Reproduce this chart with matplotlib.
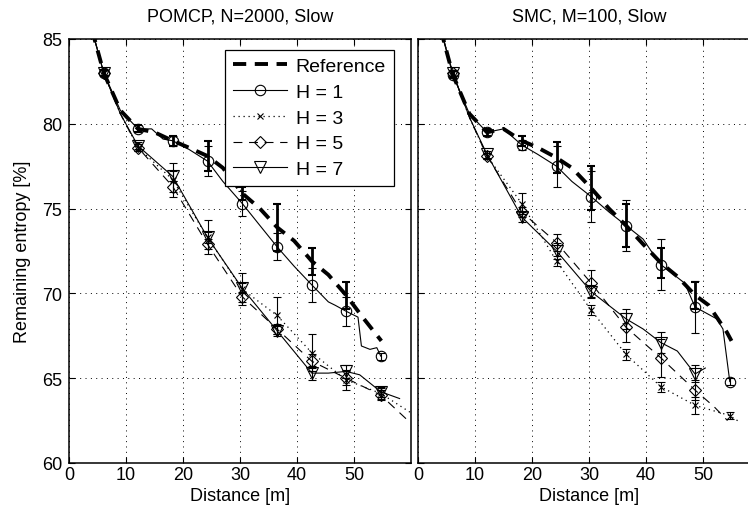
import matplotlib
matplotlib.use("Agg")
import matplotlib.pyplot as plt

plt.rcParams['font.family'] = ['Liberation Sans', 'DejaVu Sans']

# marker / error bar positions (distance in m)
dist = [6.1, 12.1, 18.2, 24.3, 30.4, 36.5, 42.6, 48.6, 54.7]

# ---- POMCP, N=2000 (left) ----
ref_l_x = [3.0, 6.1, 9.0, 12.1, 15.0, 18.2, 21.0, 24.3, 27.0, 30.4, 33.5, 36.5, 39.5, 42.6, 45.5, 48.6, 51.5, 54.8]
ref_l_y = [86.8, 83.0, 80.8, 79.7, 79.5, 79.0, 78.6, 78.1, 77.4, 75.9, 75.0, 73.9, 73.1, 71.9, 71.1, 69.9, 68.6, 67.2]
ref_l_err = [0.2, 0.2, 0.3, 0.9, 0.4, 1.4, 0.8, 0.8]

h1_l_x = [3.0, 6.1, 9.0, 12.1, 14.5, 16.5, 18.2, 21.0, 24.3, 27.0, 30.4, 33.5, 36.5, 39.5, 42.6, 45.5, 46.7, 48.6, 50.7, 51.3, 52.8, 54.0, 54.7]
h1_l_y = [86.8, 83.0, 80.8, 79.7, 79.7, 79.1, 79.0, 78.5, 77.8, 76.6, 75.3, 74.0, 72.75, 71.6, 70.5, 69.5, 69.3, 68.95, 68.6, 66.9, 66.7, 66.8, 66.3]
h1_l_err = [0.2, 0.2, 0.3, 0.9, 0.75, 0.8, 1.0, 0.85, 0.2]

h3_l_x = [3.0, 6.1, 9.0, 12.1, 18.2, 24.3, 30.4, 36.5, 42.6, 48.6, 54.7, 59.8]
h3_l_y = [86.8, 83.0, 80.6, 78.6, 76.7, 73.3, 70.25, 68.7, 66.5, 64.9, 64.1, 63.0]
h3_l_err = [0.2, 0.2, 1.0, 1.0, 0.95, 1.1, 1.1, 0.6, 0.3]

h5_l_x = [3.0, 6.1, 9.0, 12.1, 18.2, 24.3, 30.4, 36.5, 42.6, 48.6, 54.7, 59.8]
h5_l_y = [86.8, 83.0, 80.6, 78.6, 76.3, 72.9, 69.8, 67.9, 66.0, 65.0, 64.0, 62.4]
h5_l_err = [0.2, 0.2, 0.3, 0.3, 0.3, 0.3, 0.4, 0.4, 0.3]

h7_l_x = [3.0, 6.1, 9.0, 12.1, 18.2, 24.3, 30.4, 36.5, 42.6, 45.5, 48.6, 51.0, 54.7, 58.0]
h7_l_y = [86.8, 83.0, 80.6, 78.7, 76.9, 73.3, 70.3, 67.8, 65.3, 65.3, 65.4, 65.2, 64.2, 63.8]
h7_l_err = [0.2, 0.2, 0.3, 0.3, 0.3, 0.3, 0.4, 0.4, 0.3]

# ---- SMC, M=100 (right) ----
ref_r_x = [3.0, 6.1, 9.0, 12.1, 15.0, 18.2, 21.0, 24.3, 27.0, 30.4, 33.5, 36.5, 39.5, 42.6, 45.5, 48.6, 51.0, 54.2, 55.0]
ref_r_y = [86.8, 82.9, 80.6, 79.5, 79.7, 79.0, 78.6, 78.0, 77.4, 76.2, 75.0, 74.0, 72.9, 71.8, 71.0, 69.9, 69.3, 67.7, 67.2]
ref_r_err = [0.2, 0.2, 0.3, 0.9, 1.3, 1.25, 0.9, 0.8]

h1_r_x = [3.0, 6.1, 9.0, 12.1, 15.0, 18.2, 21.0, 24.3, 27.0, 30.4, 33.5, 36.5, 39.5, 41.9, 42.6, 46.8, 48.6, 52.4, 53.5, 54.7]
h1_r_y = [86.8, 82.9, 80.6, 79.5, 79.7, 78.75, 78.2, 77.5, 76.6, 75.7, 74.8, 74.0, 73.2, 72.0, 71.7, 70.6, 69.2, 68.5, 67.9, 64.8]
h1_r_err = [0.2, 0.2, 0.3, 1.2, 1.5, 1.5, 1.5, 1.55, 0.2]

h3_r_x = [3.0, 6.1, 9.0, 12.1, 18.2, 24.3, 30.4, 36.5, 42.6, 48.6, 54.7, 56.5]
h3_r_y = [86.8, 83.0, 80.4, 78.1, 75.3, 71.9, 69.0, 66.4, 64.5, 63.4, 62.8, 62.4]
h3_r_err = [0.2, 0.2, 0.6, 0.3, 0.3, 0.3, 0.3, 0.5, 0.2]

h5_r_x = [3.0, 6.1, 9.0, 12.1, 18.2, 24.3, 30.4, 36.5, 42.6, 48.6, 52.0, 54.3]
h5_r_y = [86.8, 83.0, 80.4, 78.1, 74.8, 73.0, 70.6, 68.0, 66.2, 64.3, 63.3, 62.5]
h5_r_err = [0.2, 0.2, 0.3, 0.5, 0.8, 0.85, 1.1, 0.6]

h7_r_x = [3.0, 6.1, 9.0, 12.1, 18.2, 24.3, 30.4, 36.5, 39.5, 42.6, 45.5, 48.6, 50.4]
h7_r_y = [86.8, 83.0, 80.4, 78.2, 74.5, 72.5, 70.1, 68.5, 67.9, 67.1, 66.6, 65.25, 65.6]
h7_r_err = [0.2, 0.2, 0.3, 0.5, 0.4, 0.6, 0.6, 0.5]

labels = ['Reference', 'H = 1', 'H = 3', 'H = 5', 'H = 7']
titles = ['POMCP, N=2000, Slow', 'SMC, M=100, Slow']

FS = 13


def marks(xs):
    return [i for i, v in enumerate(xs) if v in dist]


def draw_series(ax, xs, ys, errs, style, thick=False):
    idx = marks(xs)
    ex = [xs[i] for i in idx]
    ey = [ys[i] for i in idx]
    ax.errorbar(ex, ey, yerr=errs, fmt='none', ecolor='k',
                elinewidth=2.0 if thick else 0.8, capsize=2.8,
                capthick=1.5 if thick else 0.8, zorder=3)
    line, = ax.plot(xs, ys, color='k', markevery=idx if style.get('marker') else None,
                    markerfacecolor='none', markeredgecolor='k', zorder=4 if thick else 3,
                    **style)
    return line


styles = [
    dict(linestyle=(0, (3.4, 2.2)), linewidth=2.8),
    dict(linestyle='-', linewidth=0.8, marker='o', markersize=7.5, markeredgewidth=0.8),
    dict(linestyle=(0, (1, 3)), linewidth=0.9, marker='x', markersize=5, markeredgewidth=0.8),
    dict(linestyle=(0, (8, 6)), linewidth=0.8, marker='D', markersize=6.5, markeredgewidth=0.8),
    dict(linestyle='-', linewidth=0.8, marker='v', markersize=9, markeredgewidth=0.8),
]

panels = [
    [(ref_l_x, ref_l_y, ref_l_err), (h1_l_x, h1_l_y, h1_l_err), (h3_l_x, h3_l_y, h3_l_err),
     (h5_l_x, h5_l_y, h5_l_err), (h7_l_x, h7_l_y, h7_l_err)],
    [(ref_r_x, ref_r_y, ref_r_err), (h1_r_x, h1_r_y, h1_r_err), (h3_r_x, h3_r_y, h3_r_err),
     (h5_r_x, h5_r_y, h5_r_err), (h7_r_x, h7_r_y, h7_r_err)],
]

fig = plt.figure(figsize=(7.48, 5.10), dpi=100)
W, H = 748.0, 510.0
ax_l = fig.add_axes([69 / W, 46 / H, 342 / W, 424 / H])
ax_r = fig.add_axes([418 / W, 46 / H, 342 / W, 424 / H])

for k, ax in enumerate([ax_l, ax_r]):
    handles = []
    for j, (xs, ys, errs) in enumerate(panels[k]):
        handles.append(draw_series(ax, xs, ys, errs, styles[j], thick=(j == 0)))
    ax.set_xlim(0, 60)
    ax.set_ylim(60, 85)
    ax.set_xticks([0, 10, 20, 30, 40, 50])
    ax.set_yticks([60, 65, 70, 75, 80, 85])
    ax.grid(True, linestyle=(0, (1, 4.5)), color='k', linewidth=0.7)
    ax.tick_params(direction='in', length=4, width=0.8, labelsize=FS,
                   top=True, right=True, pad=2)
    ax.tick_params(axis='y', pad=5)
    for s in ax.spines.values():
        s.set_linewidth(1.1)
    ax.set_title(titles[k], fontsize=FS, pad=13)
    ax.set_xlabel('Distance [m]', fontsize=FS, labelpad=3)
    if k == 0:
        ax.set_ylabel('Remaining entropy [%]', fontsize=FS, labelpad=8)
        leg = ax.legend(handles, labels, loc='upper right', bbox_to_anchor=(0.95, 0.975),
                        borderaxespad=0, fontsize=14, handlelength=2.8, handletextpad=0.45,
                        labelspacing=0.42, borderpad=0.4, fancybox=False, framealpha=1,
                        edgecolor='k')
        leg.get_frame().set_linewidth(0.9)
    else:
        ax.tick_params(labelleft=False)

fig.savefig('out.png', dpi=100)
